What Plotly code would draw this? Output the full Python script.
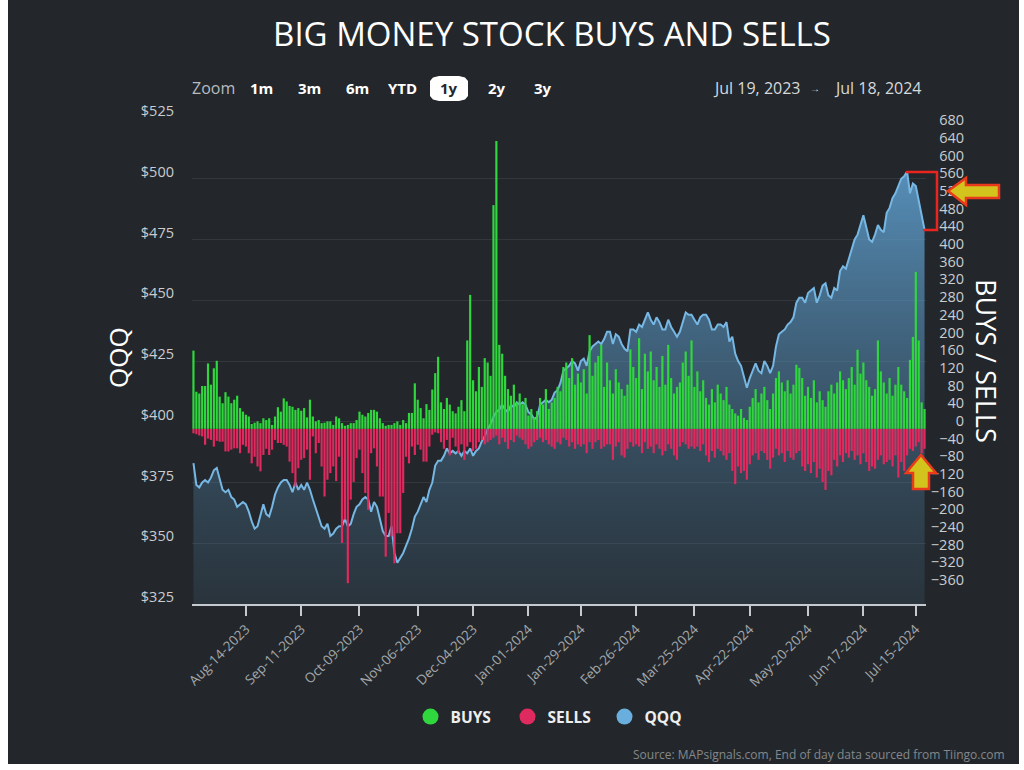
import pandas as pd
import plotly.graph_objects as go

# ---------------- data ----------------
START = "2023-07-19"
END = "2024-07-18"
MARKET_HOLIDAYS = ["2023-09-04", "2023-11-23", "2023-12-25", "2024-01-01", "2024-01-15",
                   "2024-02-19", "2024-03-29", "2024-05-27", "2024-06-19", "2024-07-04"]

TICK_DATES = ["2023-08-14", "2023-09-11", "2023-10-09", "2023-11-06", "2023-12-04", "2024-01-01",
              "2024-01-29", "2024-02-26", "2024-03-25", "2024-04-22", "2024-05-20", "2024-06-17",
              "2024-07-15"]
TICK_LABELS = ["Aug-14-2023", "Sep-11-2023", "Oct-09-2023", "Nov-06-2023", "Dec-04-2023",
               "Jan-01-2024", "Jan-29-2024", "Feb-26-2024", "Mar-25-2024", "Apr-22-2024",
               "May-20-2024", "Jun-17-2024", "Jul-15-2024"]

QQQ = [
    383, 374, 373, 375, 376, 375, 377, 380, 381, 376, 372, 371, 372, 369, 368, 365, 366, 367,
    366, 363, 359, 356, 357, 361, 366, 362, 361, 365, 370, 373, 375, 376, 376, 374, 371, 375,
    372, 374, 372, 375, 372, 368, 364, 361, 357, 356, 358, 353, 354, 356, 357, 357, 360, 357,
    358, 362, 365, 366, 368, 369, 368, 363, 367, 365, 360, 355, 353, 353, 357, 346, 342, 344,
    346, 349, 352, 356, 361, 363, 366, 369, 367, 372, 375, 382, 384, 384, 386, 389, 387, 388,
    387, 388, 386, 388, 387, 389, 386, 388, 389, 392, 394, 397, 399, 402, 404, 405, 407, 405,
    404, 407, 406, 408, 407, 408, 407, 404, 403, 401, 402, 407, 408, 409, 408, 409, 412, 413,
    416, 421, 422, 423, 425, 424, 421, 425, 426, 423, 429, 431, 432, 433, 432, 434, 437, 437,
    432, 436, 435, 432, 430, 429, 438, 438, 437, 440, 439, 442, 445, 442, 440, 443, 441, 438,
    438, 442, 439, 437, 435, 437, 441, 445, 444, 444, 442, 440, 443, 444, 444, 442, 438, 438,
    440, 440, 439, 441, 433, 435, 428, 425, 423, 419, 414, 418, 421, 424, 421, 420, 425, 423,
    420, 423, 431, 436, 437, 438, 440, 441, 443, 449, 451, 451, 449, 453, 454, 455, 449, 452,
    456, 457, 452, 451, 455, 454, 462, 464, 463, 467, 471, 475, 477, 481, 485, 480, 475, 474,
    477, 481, 479, 478, 486, 488, 492, 494, 497, 500, 501, 503, 494, 498, 497, 491, 485, 479,
]

BUYS = [
    177, 84, 80, 97, 97, 148, 100, 137, 154, 73, 58, 83, 73, 58, 66, 75, 47, 39,
    32, 28, 11, 14, 17, 13, 24, 20, 24, 9, 28, 49, 39, 69, 62, 52, 50, 43,
    47, 41, 47, 26, 66, 28, 17, 20, 13, 14, 17, 17, 9, 28, 24, 13, 7, 9,
    13, 13, 20, 39, 32, 28, 36, 43, 43, 39, 24, 13, 7, 9, 9, 13, 17, 9,
    20, 13, 36, 36, 103, 66, 47, 24, 56, 43, 89, 126, 163, 60, 45, 70, 55, 40,
    35, 50, 65, 40, 200, 303, 110, 85, 140, 95, 160, 150, 120, 506, 651, 190, 170, 120,
    90, 75, 100, 60, 80, 55, 70, 30, 45, 25, 40, 70, 55, 90, 45, 60, 70, 95,
    85, 140, 150, 115, 160, 100, 125, 105, 135, 80, 212, 120, 150, 165, 190, 95, 150, 110,
    80, 135, 105, 90, 75, 100, 180, 140, 115, 205, 90, 170, 130, 175, 110, 140, 95, 165,
    100, 190, 115, 80, 95, 105, 150, 175, 120, 200, 95, 130, 85, 110, 70, 55, 90, 60,
    100, 80, 65, 95, 55, 45, 35, 30, 45, 25, 20, 50, 70, 90, 60, 80, 95, 65,
    45, 80, 115, 130, 105, 85, 110, 80, 100, 145, 138, 115, 75, 95, 70, 110, 60, 85,
    65, 50, 85, 100, 80, 105, 130, 110, 90, 115, 140, 100, 179, 125, 150, 110, 95, 75,
    90, 200, 130, 105, 80, 115, 75, 100, 140, 100, 85, 70, 156, 208, 355, 200, 60, 45,
]

SELLS = [
    -10, -12, -15, -17, -36, -22, -25, -40, -27, -29, -29, -51, -51, -47, -44, -44, -55, -36,
    -40, -55, -78, -63, -85, -96, -59, -45, -59, -47, -25, -32, -32, -36, -40, -74, -100, -130,
    -89, -70, -66, -47, -115, -17, -55, -32, -85, -153, -115, -100, -85, -118, -63, -258, -205, -349,
    -160, -120, -66, -47, -100, -145, -183, -55, -44, -85, -153, -153, -289, -190, -243, -304, -236, -236,
    -145, -63, -78, -40, -59, -36, -47, -74, -74, -40, -13, -8, -10, -30, -45, -25, -60, -20,
    -40, -55, -35, -70, -40, -30, -50, -45, -30, -25, -35, -30, -25, -20, -15, -35, -20, -30,
    -45, -25, -30, -15, -20, -25, -35, -45, -40, -30, -25, -20, -30, -25, -35, -40, -45, -30,
    -35, -20, -25, -40, -30, -45, -35, -40, -35, -55, -30, -45, -30, -25, -45, -40, -35, -35,
    -70, -40, -30, -60, -65, -45, -30, -40, -35, -40, -55, -30, -45, -40, -55, -35, -45, -60,
    -50, -35, -45, -60, -70, -40, -30, -35, -45, -40, -45, -40, -50, -35, -60, -75, -50, -65,
    -45, -50, -60, -70, -55, -95, -125, -85, -100, -95, -115, -80, -60, -55, -70, -50, -55, -70,
    -90, -65, -45, -60, -55, -75, -50, -65, -70, -55, -50, -85, -95, -80, -100, -75, -110, -90,
    -120, -138, -95, -105, -70, -85, -60, -75, -55, -65, -50, -70, -60, -80, -55, -75, -95, -85,
    -90, -70, -60, -80, -75, -70, -85, -60, -110, -75, -95, -60, -45, -50, -40, -30, -55, -45,
]

# trading-day calendar (categories)
_days = pd.bdate_range(START, END)
_days = _days[~_days.isin(pd.to_datetime(MARKET_HOLIDAYS))]
DAYS = [d.strftime("%Y-%m-%d") for d in _days]
assert len(DAYS) == len(QQQ) == len(BUYS) == len(SELLS), (len(DAYS), len(QQQ), len(BUYS), len(SELLS))

# tick at first session on/after each label date
TICK_VALS = [next(d for d in DAYS if d >= t) for t in TICK_DATES]

# ---------------- style ----------------
W, H = 1024, 770
ML, MR, MT, MB = 192, 40, 118, 166
PLOT_R = 926
BG = "#23272b"
GREEN = "#30d63e"
RED = "#de2a5e"
BLUE = "#76b7e3"
FONT = "Open Sans"
AXIS_TXT = "#c9cdd1"


def fx(x):
    return (x - ML) / (W - ML - MR)


def fy(y):
    return (H - MB - y) / (H - MT - MB)


def path(points, close=True):
    s = "M " + " L ".join(f"{fx(x):.5f},{fy(y):.5f}" for x, y in points)
    return s + (" Z" if close else "")


fig = go.Figure()

fig.add_trace(go.Scatter(
    x=DAYS, y=QQQ, yaxis="y", mode="lines", name="QQQ",
    line=dict(color=BLUE, width=2),
    fill="tozeroy",
    fillgradient=dict(type="vertical", start=325, stop=505,
                      colorscale=[[0, "rgba(70,110,140,0.18)"], [1, "rgba(100,170,222,0.80)"]]),
    showlegend=False, hoverinfo="skip"))

fig.add_trace(go.Bar(x=DAYS, y=BUYS, yaxis="y2", name="BUYS",
                     marker=dict(color=GREEN, line=dict(width=0)), showlegend=False))
fig.add_trace(go.Bar(x=DAYS, y=SELLS, yaxis="y2", name="SELLS",
                     marker=dict(color=RED, line=dict(width=0)), showlegend=False))

# legend entries (circle symbols)
for nm, col in [("BUYS", GREEN), ("SELLS", RED), ("QQQ", "#6aaedd")]:
    fig.add_trace(go.Scatter(x=[DAYS[0]], y=[None], mode="markers", name=nm,
                             marker=dict(symbol="circle", size=16, color=col), showlegend=True))

shapes = [
    # dark card with thin white frame
    dict(type="rect", xref="paper", yref="paper", x0=fx(8), x1=fx(1019), y0=fy(764), y1=fy(-5),
         fillcolor=BG, line=dict(width=0), layer="below"),
    # selected "1y" pill
    dict(type="path", xref="paper", yref="paper",
         path=path([(439, 76), (459, 76), (465, 77.5), (468, 81), (468, 96), (465, 99.5), (459, 101),
                    (439, 101), (433, 99.5), (430, 96), (430, 81), (433, 77.5)]),
         fillcolor="#ffffff", line=dict(width=0), layer="above"),
    # red bracket
    dict(type="path", xref="paper", yref="paper",
         path=path([(906, 172), (937, 172), (937, 230), (923, 230)], close=False),
         line=dict(color="#e8261f", width=2.5)),
    # yellow arrow pointing left
    dict(type="path", xref="paper", yref="paper",
         path=path([(948, 191), (966, 178), (966, 185), (999, 185), (999, 198), (966, 198), (966, 205)]),
         fillcolor="#d2c31d", line=dict(color="#ea3a1c", width=2.5)),
    # yellow arrow pointing up
    dict(type="path", xref="paper", yref="paper",
         path=path([(921, 455), (936, 473), (929, 473), (929, 489), (913, 489), (913, 473), (906, 473)]),
         fillcolor="#d2c31d", line=dict(color="#ea3a1c", width=2.5)),
]

ann = []


def text(x, y, s, size=15, color="#ffffff", weight="normal", xanchor="center", angle=0):
    ann.append(dict(x=fx(x), y=fy(y), xref="paper", yref="paper", text=s, showarrow=False,
                    xanchor=xanchor, yanchor="middle", textangle=angle,
                    font=dict(family=FONT, size=size, color=color, weight=weight)))


text(213, 88, "Zoom", size=16, color="#b8bcc0")
for lab, cx in [("1m", 261), ("3m", 309), ("6m", 357), ("YTD", 402), ("2y", 497), ("3y", 543)]:
    text(cx, 88, lab, size=15, color="#ffffff", weight="bold")
text(449, 88, "1y", size=15, color=BG, weight="bold")
text(757, 88, "Jul 19, 2023", size=16, color="#d6d9dc")
text(815, 88, "→", size=10, color="#d6d9dc")
text(878, 88, "Jul 18, 2024", size=16, color="#d6d9dc")
text(118, 358, "QQQ", size=26, color="#ffffff", angle=-90)
text(987, 361, "BUYS / SELLS", size=27, color="#ffffff", angle=90)
text(1007, 754, "Source: MAPsignals.com, End of day data sourced from Tiingo.com", size=12,
     color="#84888c", xanchor="right")

fig.update_layout(
    width=W, height=H,
    margin=dict(l=ML, r=MR, t=MT, b=MB, pad=0),
    paper_bgcolor="#ffffff",
    plot_bgcolor="rgba(0,0,0,0)",
    font=dict(family=FONT, color=AXIS_TXT),
    title=dict(text="BIG MONEY STOCK BUYS AND SELLS", x=552 / W, y=1 - 34 / H,
               xanchor="center", yanchor="middle", xref="container", yref="container",
               font=dict(family=FONT, size=33, color="#ffffff", weight=400)),
    barmode="relative",
    bargap=0.25,
    showlegend=True,
    legend=dict(orientation="h", x=fx(556), xanchor="center", y=fy(717), yanchor="middle",
                font=dict(family=FONT, size=15.5, color="#eeeeee", weight="bold"),
                entrywidth=52, entrywidthmode="pixels",
                bgcolor="rgba(0,0,0,0)", itemclick=False, itemdoubleclick=False),
    xaxis=dict(type="category", domain=[0, (PLOT_R - ML) / (W - ML - MR)],
               range=[-0.5, len(DAYS) - 0.5],
               tickmode="array", tickvals=TICK_VALS, ticktext=TICK_LABELS, tickangle=-45,
               ticks="outside", ticklen=10, tickwidth=2, tickcolor="#c4cad0",
               showline=True, linecolor="#c4cad0", linewidth=2, showgrid=False, zeroline=False,
               tickfont=dict(size=13.5, color="#a3a7ab")),
    yaxis=dict(range=[325, 525], tick0=325, dtick=25, tickprefix="$",
               showgrid=True, gridcolor="#33383d", gridwidth=1, zeroline=False, showline=False,
               ticks="", ticklabelstandoff=17, ticklabelshift=-7,
               tickfont=dict(size=14.5, color=AXIS_TXT)),
    yaxis2=dict(overlaying="y", anchor="free", side="left", position=fx(964),
                range=[-396, 703], tick0=0, dtick=40,
                showgrid=False, zeroline=False, showline=False, ticks="", ticklabelshift=-8,
                tickfont=dict(size=14.5, color=AXIS_TXT)),
    shapes=shapes,
    annotations=ann,
)

fig.write_html("out.html", config={"displayModeBar": False},
               post_script="document.body.style.margin='0';document.body.style.overflow='hidden';")
